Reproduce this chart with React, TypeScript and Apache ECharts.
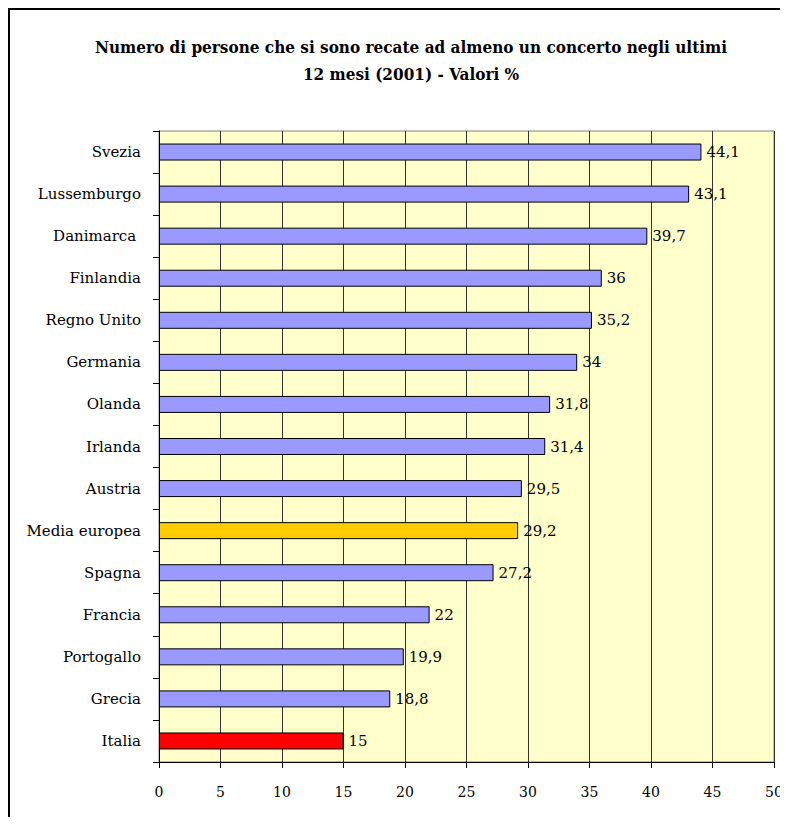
import React, { useEffect, useRef } from "react";
import * as echarts from "echarts";

const titleLines = [
  "Numero di persone che si sono recate ad almeno un concerto negli ultimi",
  "12 mesi (2001) - Valori %",
];
const categories = [
  "Svezia", "Lussemburgo", "Danimarca ", "Finlandia", "Regno Unito", "Germania", "Olanda",
  "Irlanda", "Austria", "Media europea", "Spagna", "Francia", "Portogallo", "Grecia", "Italia",
];
const values = [44.1, 43.1, 39.7, 36, 35.2, 34, 31.8, 31.4, 29.5, 29.2, 27.2, 22, 19.9, 18.8, 15];
const highlight: Record<string, string> = { "Media europea": "#FFCC00", Italia: "#FF0000" };
const defaultColor = "#9999FF";
const xMin = 0;
const xMax = 50;
const xStep = 5;

const FONT = "DejaVu Serif";
const TITLE_FONT = "'DejaVu Serif Condensed', 'DejaVu Serif'";

export default function App() {
  const ref = useRef<HTMLDivElement>(null);
  useEffect(() => {
    if (!ref.current) return;
    document.documentElement.style.overflow = "hidden";
    document.body.style.overflow = "hidden";
    const chart = echarts.init(ref.current, undefined, { renderer: "svg" });
    chart.setOption({
      animation: false,
      backgroundColor: "#FFFFFF",
      title: {
        text: titleLines.join("\n"),
        left: 398,
        top: 20,
        textAlign: "center",
        textStyle: {
          fontFamily: TITLE_FONT,
          fontWeight: "bold",
          fontSize: 17,
          lineHeight: 27,
          color: "#000",
        },
      },
      graphic: [
        {
          type: "line",
          shape: { x1: 0, y1: 1, x2: 820, y2: 1 },
          style: { stroke: "#000", lineWidth: 2 },
          silent: true,
        },
        {
          type: "line",
          shape: { x1: 1, y1: 0, x2: 1, y2: 900 },
          style: { stroke: "#000", lineWidth: 2 },
          silent: true,
        },
      ],
      grid: {
        left: 151,
        top: 123,
        width: 615,
        height: 631,
        show: true,
        backgroundColor: "#FFFFCC",
        borderColor: "#808080",
        borderWidth: 1,
      },
      xAxis: {
        type: "value",
        min: xMin,
        max: xMax,
        interval: xStep,
        axisLine: { show: true, onZero: false, lineStyle: { color: "#000", width: 1 } },
        axisTick: { show: true, length: 6, lineStyle: { color: "#000" } },
        axisLabel: { color: "#000", fontFamily: FONT, fontSize: 14, margin: 23 },
        splitLine: { show: true, lineStyle: { color: "#333", width: 1 } },
      },
      yAxis: {
        type: "category",
        data: categories,
        inverse: true,
        axisLine: { show: true, lineStyle: { color: "#000", width: 1 } },
        axisTick: { show: true, length: 6, alignWithLabel: false, lineStyle: { color: "#000" } },
        axisLabel: { color: "#000", fontFamily: FONT, fontSize: 15, margin: 18 },
        splitLine: { show: false },
      },
      series: [
        {
          type: "bar",
          barWidth: 17,
          data: values.map((v, i) => ({
            value: v,
            itemStyle: {
              color: highlight[categories[i]] || defaultColor,
              borderColor: "#000",
              borderWidth: 1,
            },
          })),
          label: {
            show: true,
            position: "right",
            distance: 5,
            color: "#000",
            fontFamily: FONT,
            fontSize: 15,
            formatter: (p: any) => String(p.value).replace(".", ","),
          },
        },
      ],
    });
    return () => chart.dispose();
  }, []);
  return <div ref={ref} style={{ width: 800, height: 809 }} />;
}
